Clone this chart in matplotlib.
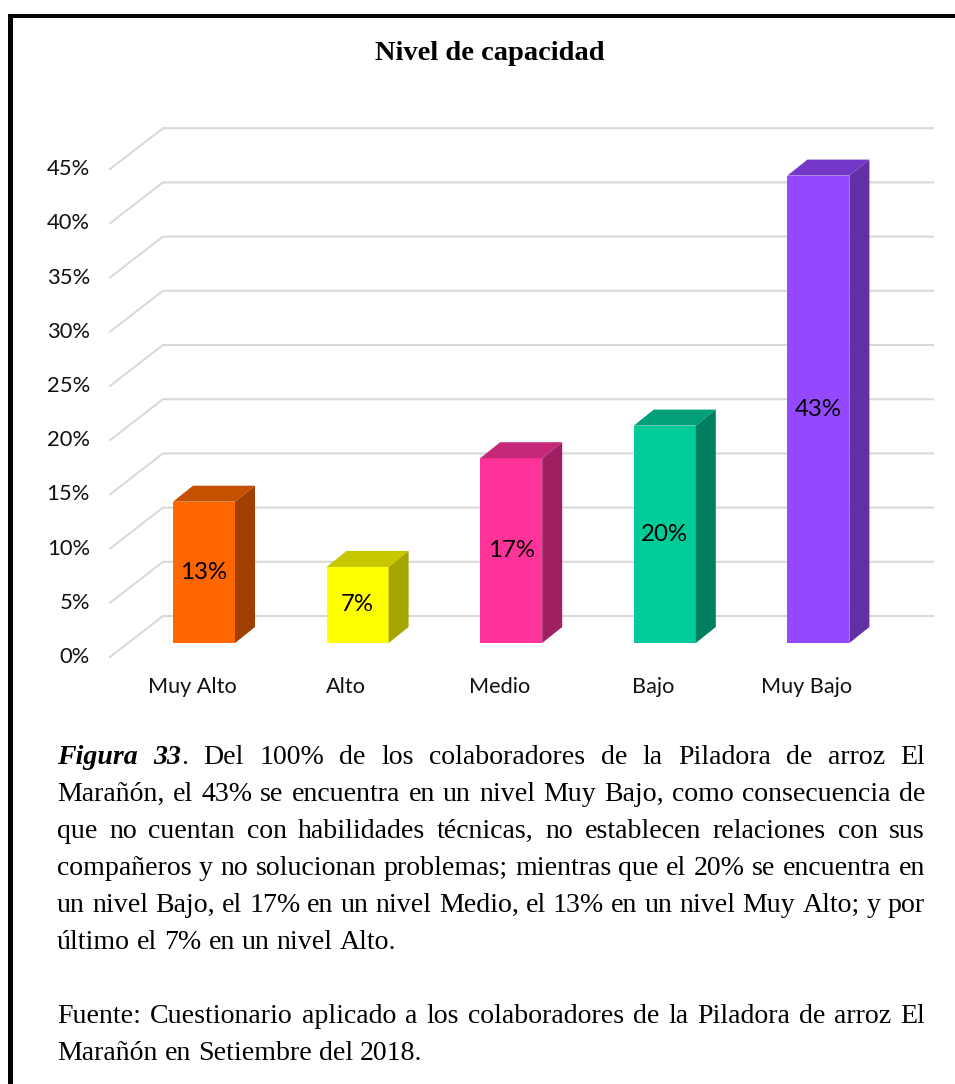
import matplotlib
matplotlib.use("Agg")
import matplotlib.pyplot as plt
from matplotlib.patches import Polygon, Rectangle
from matplotlib.font_manager import FontProperties

# ---------------- data ----------------
categories = ["Muy Alto", "Alto", "Medio", "Bajo", "Muy Bajo"]
values = [13, 7, 17, 20, 43]
value_labels = ["13%", "7%", "17%", "20%", "43%"]
y_ticks = [0, 5, 10, 15, 20, 25, 30, 35, 40, 45]
y_tick_labels = ["0%", "5%", "10%", "15%", "20%", "25%", "30%", "35%", "40%", "45%"]
front_colors = ["#FF6600", "#FFFF00", "#FF3399", "#00CC99", "#9449FF"]
top_colors = ["#C75000", "#C8C800", "#C52878", "#00A078", "#7338C8"]
side_colors = ["#A04000", "#A6A600", "#A01F62", "#008060", "#6130A5"]
title = "Nivel de capacidad"
caption_lines = [
    "Figura 33. Del 100% de los colaboradores de la Piladora de arroz El",
    "Marañón, el 43% se encuentra en un nivel Muy Bajo, como consecuencia de",
    "que no cuentan con habilidades técnicas, no establecen relaciones con sus",
    "compañeros y no solucionan problemas; mientras que el 20% se encuentra en",
    "un nivel Bajo, el 17% en un nivel Medio, el 13% en un nivel Muy Alto; y por",
    "último el 7% en un nivel Alto.",
]
source_lines = [
    "Fuente: Cuestionario aplicado a los colaboradores de la Piladora de arroz El",
    "Marañón en Setiembre del 2018.",
]

# ---------------- figure ----------------
W, H = 955, 1084
fig = plt.figure(figsize=(W / 100, H / 100), dpi=100)
fig.patch.set_facecolor("white")


def fx(px):
    return px / W


def fy(py):
    return 1 - py / H


# frame border (left + top)
fig.patches.append(Rectangle((fx(8), 0), fx(4.5), fy(14), transform=fig.transFigure,
                             facecolor="black", edgecolor="none"))
fig.patches.append(Rectangle((fx(8), fy(17.5)), 1 - fx(8), 3.5 / H, transform=fig.transFigure,
                             facecolor="black", edgecolor="none"))

# plotting axes mapped to pixel layout
XS, X0 = 153.6, 204.0      # px per category, px of first category
YS, Y0 = 10.87, 643.0      # px per percent, px of 0 on bar front plane
L, R, T, B = 100, 950, 100, 700
ax = fig.add_axes([fx(L), fy(B), (R - L) / W, (B - T) / H])
ax.set_xlim((L - X0) / XS, (R - X0) / XS)
ax.set_ylim((Y0 - B) / YS, (Y0 - T) / YS)
ax.axis("off")

# 3D grid geometry (data units)
front_x = (110 - X0) / XS
back_x = (163 - X0) / XS
right_x = (933 - X0) / XS
front_dy = (Y0 - 657) / YS
back_dy = (Y0 - 616) / YS
grid_scale = 10.84 / YS

for t in y_ticks:
    yf = t * grid_scale + front_dy
    yb = t * grid_scale + back_dy
    ax.plot([front_x, back_x, right_x], [yf, yb, yb], color="#D9D9D9", lw=1.5,
            solid_joinstyle="miter", zorder=1)

tick_font = ["Lato", "DejaVu Sans"]
for t, lab in zip(y_ticks, y_tick_labels):
    ax.text(front_x - 20 / XS, t * grid_scale + front_dy, lab, ha="right", va="center",
            fontsize=15.8, family=tick_font, color="#111111")

# bars
hw = 31 / XS
ddx = 20 / XS
ddy = 16 / YS
xs = list(range(len(categories)))
ax.bar(xs, values, width=2 * hw, color=front_colors, edgecolor="none", zorder=3)
for i, v in enumerate(values):
    top = Polygon([(i - hw, v), (i + hw, v), (i + hw + ddx, v + ddy), (i - hw + ddx, v + ddy)],
                  closed=True, facecolor=top_colors[i], edgecolor="none", zorder=3)
    side = Polygon([(i + hw, 0), (i + hw + ddx, ddy), (i + hw + ddx, v + ddy), (i + hw, v)],
                   closed=True, facecolor=side_colors[i], edgecolor="none", zorder=3)
    ax.add_patch(top)
    ax.add_patch(side)
    ax.text(i, v / 2, value_labels[i], ha="center", va="center", fontsize=17.3,
            family=tick_font, color="black", zorder=5)

cat_y = (Y0 - 687) / YS
for i, c in enumerate(categories):
    ax.text(i - 12 / XS, cat_y, c, ha="center", va="center", fontsize=15.6,
            family=tick_font, color="#111111")

# title
fig.text(fx(490), fy(60), title, ha="center", va="baseline", fontsize=20.5,
         family="Liberation Serif", fontweight="bold", color="black")

# ---------------- justified caption ----------------
renderer = fig.canvas.get_renderer()
LEFT, RIGHT = 57, 925


def tw(s, fp):
    w, h, d = renderer.get_text_width_height_descent(s, fp, ismath=False)
    return w


def fonts(size):
    return (FontProperties(family="Liberation Serif", size=size),
            FontProperties(family="Liberation Serif", size=size, weight="bold", style="italic"))


def make_words(line, size, first=False):
    reg, bi = fonts(size)
    words = line.split(" ")
    out = []
    for k, w in enumerate(words):
        if first and k == 0:
            out.append([(w, bi)])
        elif first and k == 1:
            out.append([(w.rstrip("."), bi), (".", reg)])
        else:
            out.append([(w, reg)])
    return out


def natural_width(words, size):
    reg, _ = fonts(size)
    space = tw("a a", reg) - tw("aa", reg)
    return sum(sum(tw(s, fp) for s, fp in wd) for wd in words) + space * (len(words) - 1)


# fit caption size so the tightest justified line just fills the column
probe = 20.0
just_lines = [(l, k == 0) for k, l in enumerate(caption_lines[:-1])] + [(source_lines[0], False)]
widest = max(natural_width(make_words(l, probe, f), probe) for l, f in just_lines)
CAP_SIZE = min(21.0, probe * (RIGHT - LEFT) * 0.998 / widest)


def draw_line(words, baseline, justify, size):
    reg, _ = fonts(size)
    widths = [sum(tw(s, fp) for s, fp in wd) for wd in words]
    space = tw("a a", reg) - tw("aa", reg)
    if justify and len(words) > 1:
        gap = (RIGHT - LEFT - sum(widths)) / (len(words) - 1)
    else:
        gap = space
    x = LEFT
    for wd, wdt in zip(words, widths):
        xx = x
        for s, fp in wd:
            fig.text(fx(xx), fy(baseline), s, fontproperties=fp, ha="left", va="baseline",
                     color="black")
            xx += tw(s, fp)
        x += wdt + gap


LS = 37
base0 = 764
for k, line in enumerate(caption_lines):
    draw_line(make_words(line, CAP_SIZE, first=(k == 0)), base0 + k * LS,
              justify=(k < len(caption_lines) - 1), size=CAP_SIZE)
for k, line in enumerate(source_lines):
    draw_line(make_words(line, CAP_SIZE), base0 + (len(caption_lines) + 1 + k) * LS,
              justify=(k < len(source_lines) - 1), size=CAP_SIZE)

fig.savefig("out.png", dpi=100, facecolor="white")
